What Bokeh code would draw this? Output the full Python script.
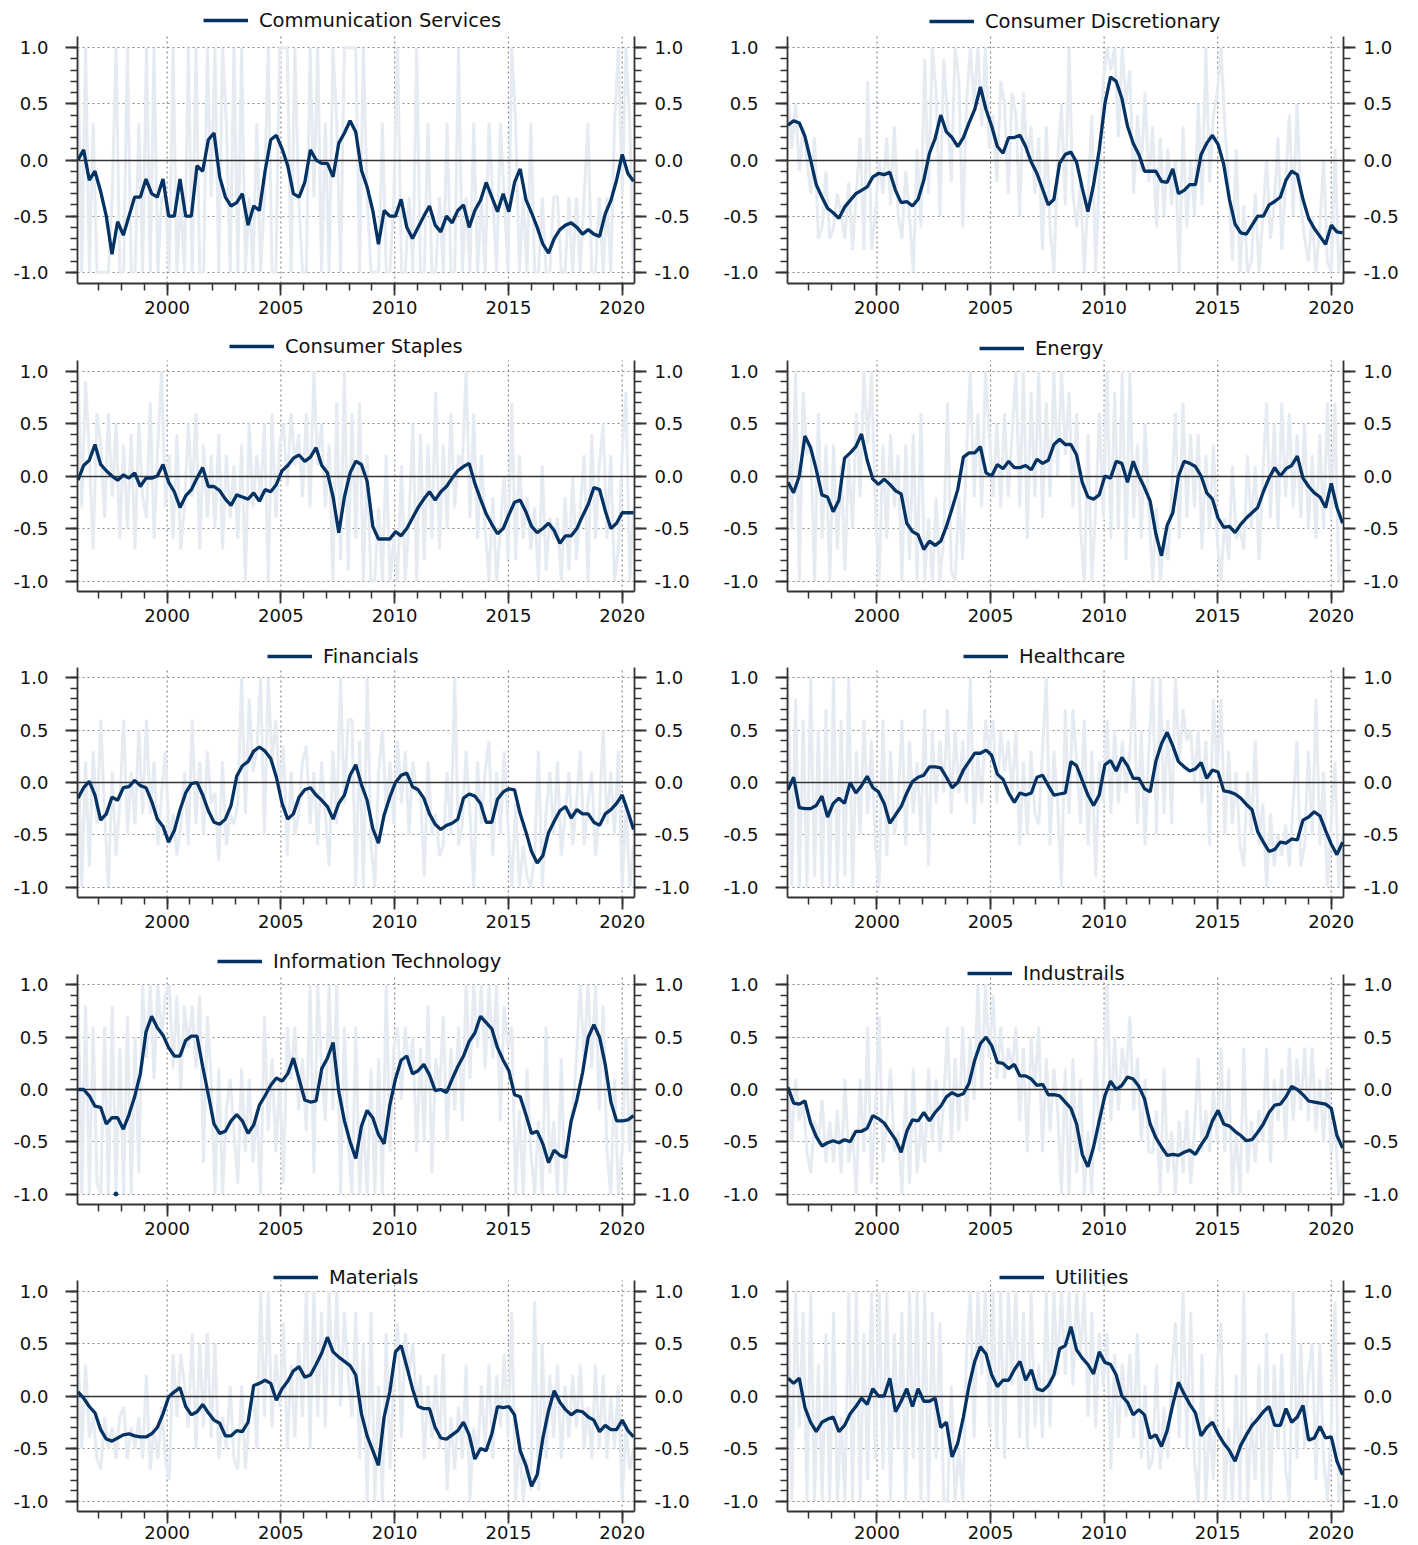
import numpy as np
from bokeh.plotting import figure
from bokeh.models import (Range1d, LinearAxis, FixedTicker, PrintfTickFormatter,
                          NumeralTickFormatter, Legend, LegendItem)
from bokeh.layouts import column, row
from bokeh.embed import file_html
from bokeh.resources import INLINE

# ---------------- data ----------------
START, END = 1996.08, 2020.5

sector_names = ["Communication Services", "Consumer Discretionary", "Consumer Staples", "Energy",
                "Financials", "Healthcare", "Information Technology", "Industrails",
                "Materials", "Utilities"]

year_ticks = [2000, 2005, 2010, 2015, 2020]
year_minor = list(range(1997, 2021))
y_ticks = [-1.0, -0.5, 0.0, 0.5, 1.0]
y_minor = [round(-1.0 + 0.1 * i, 1) for i in range(21)]

# smoothed series (approx. quarterly)
comm_smooth = [0.0, .09, -.18, -.1, -.28, -.5, -.84, -.55, -.67, -.5,
               -.33, -.33, -.17, -.3, -.33, -.17, -.5, -.5, -.17, -.5,
               -.5, -.05, -.1, .18, .24, -.15, -.33, -.41, -.38, -.3,
               -.58, -.41, -.45, -.1, .18, .22, .1, -.05, -.3, -.33,
               -.2, .09, 0.0, -.03, -.03, -.15, .15, .24, .35, .25,
               -.09, -.24, -.45, -.75, -.45, -.5, -.5, -.35, -.6, -.7,
               -.6, -.5, -.41, -.58, -.64, -.5, -.56, -.45, -.4, -.6,
               -.45, -.36, -.2, -.33, -.46, -.3, -.46, -.2, -.08, -.35,
               -.47, -.6, -.75, -.83, -.7, -.62, -.58, -.56, -.6, -.66,
               -.62, -.66, -.68, -.48, -.36, -.18, .05, -.12, -.19]
cd_smooth = [.31, .35, .33, .21, 0.0, -.22, -.33, -.43, -.47, -.52,
             -.42, -.36, -.3, -.27, -.24, -.15, -.12, -.13, -.11, -.27,
             -.38, -.37, -.41, -.35, -.18, .06, .19, .4, .25, .2,
             .12, .2, .33, .45, .65, .45, .3, .12, .06, .2,
             .2, .22, .12, -.02, -.12, -.26, -.4, -.35, -.03, .05,
             .07, -.02, -.25, -.46, -.22, .09, .5, .74, .7, .55,
             .3, .15, .05, -.1, -.1, -.1, -.19, -.2, -.08, -.3,
             -.27, -.22, -.22, .05, .15, .22, .14, -.04, -.35, -.57,
             -.65, -.66, -.58, -.5, -.5, -.4, -.37, -.33, -.18, -.1,
             -.13, -.35, -.52, -.61, -.68, -.75, -.58, -.64, -.65]
cs_smooth = [-.04, .1, .15, .3, .11, .05, 0.0, -.04, .01, -.02,
             .03, -.1, -.02, -.02, 0.0, .11, -.06, -.15, -.3, -.19,
             -.13, -.02, .08, -.1, -.1, -.14, -.22, -.28, -.18, -.2,
             -.22, -.16, -.24, -.13, -.15, -.08, .05, .1, .17, .2,
             .14, .18, .27, .1, .03, -.2, -.54, -.2, .03, .14,
             .11, -.05, -.48, -.6, -.6, -.6, -.53, -.57, -.5, -.4,
             -.3, -.22, -.15, -.23, -.15, -.1, -.02, .05, .09, .12,
             -.07, -.22, -.36, -.46, -.55, -.5, -.37, -.25, -.23, -.34,
             -.48, -.54, -.5, -.45, -.52, -.64, -.57, -.57, -.5, -.38,
             -.27, -.11, -.13, -.33, -.5, -.45, -.35, -.35, -.35]
en_smooth = [-.06, -.16, 0.0, .38, .27, .06, -.18, -.2, -.34, -.23,
             .17, .22, .28, .4, .15, -.03, -.08, -.03, -.08, -.14,
             -.17, -.45, -.53, -.56, -.7, -.62, -.66, -.62, -.48, -.31,
             -.13, .18, .22, .22, .28, .03, 0.0, .11, .07, .14,
             .08, .08, .1, .06, .16, .12, .15, .3, .35, .3,
             .3, .2, -.06, -.2, -.22, -.18, 0.0, -.02, .14, .12,
             -.06, .14, 0.0, -.11, -.24, -.55, -.76, -.47, -.35, 0.0,
             .14, .12, .09, 0.0, -.16, -.22, -.4, -.49, -.48, -.54,
             -.46, -.4, -.35, -.3, -.15, -.02, .08, 0.0, .07, .1,
             .19, -.02, -.1, -.16, -.2, -.3, -.07, -.3, -.45]
fin_smooth = [-.15, -.05, .01, -.12, -.36, -.3, -.14, -.17, -.05, -.04,
              .02, -.03, -.05, -.18, -.35, -.42, -.57, -.46, -.26, -.1,
              -.01, 0.0, -.12, -.27, -.38, -.4, -.35, -.22, .06, .16,
              .2, .3, .34, .3, .23, .05, -.2, -.35, -.3, -.14,
              -.07, -.05, -.12, -.17, -.23, -.35, -.2, -.12, .07, .17,
              -.02, -.17, -.44, -.58, -.31, -.14, 0.0, .07, .09, -.04,
              -.07, -.15, -.3, -.4, -.45, -.41, -.39, -.35, -.15, -.11,
              -.13, -.2, -.38, -.38, -.16, -.09, -.06, -.07, -.3, -.47,
              -.66, -.77, -.7, -.48, -.37, -.27, -.23, -.34, -.26, -.3,
              -.3, -.38, -.41, -.3, -.26, -.2, -.12, -.28, -.45]
hc_smooth = [-.07, .05, -.24, -.25, -.25, -.22, -.13, -.33, -.2, -.15,
             -.2, 0.0, -.1, -.03, .06, -.05, -.09, -.2, -.39, -.31,
             -.23, -.1, .01, .05, .07, .15, .15, .14, .05, -.05,
             0.0, .12, .2, .28, .28, .31, .26, .08, .03, -.1,
             -.19, -.1, -.12, -.1, .05, .07, -.03, -.12, -.11, -.1,
             .2, .16, .02, -.12, -.22, -.12, .17, .21, .11, .24,
             .16, .04, .04, -.06, -.09, .2, .37, .48, .35, .2,
             .15, .11, .13, .19, .04, .12, .1, -.08, -.09, -.11,
             -.15, -.21, -.26, -.47, -.57, -.66, -.64, -.57, -.58, -.54,
             -.55, -.36, -.33, -.28, -.32, -.46, -.59, -.69, -.57]
it_smooth = [0.0, 0.0, -.06, -.16, -.17, -.33, -.27, -.27, -.38, -.24,
             -.07, .15, .55, .7, .59, .52, .4, .32, .32, .47,
             .51, .51, .22, -.05, -.33, -.42, -.4, -.3, -.24, -.3,
             -.42, -.34, -.15, -.06, .04, .11, .08, .15, .3, .1,
             -.1, -.12, -.11, .2, .3, .45, -.02, -.3, -.5, -.66,
             -.35, -.2, -.27, -.43, -.52, -.15, .1, .28, .32, .15,
             .18, .24, .14, -.01, 0.0, -.03, .1, .22, .32, .46,
             .54, .7, .64, .58, .4, .28, .18, -.05, -.07, -.24,
             -.42, -.4, -.52, -.7, -.58, -.63, -.65, -.3, -.1, .16,
             .5, .62, .5, .24, -.12, -.3, -.3, -.29, -.25]
it_dot_x = [1997.75]
it_dot_y = [-1.0]
ind_smooth = [.02, -.13, -.14, -.11, -.32, -.45, -.54, -.51, -.49, -.51,
              -.48, -.5, -.4, -.4, -.37, -.25, -.28, -.32, -.4, -.48,
              -.6, -.4, -.29, -.3, -.22, -.3, -.22, -.16, -.07, -.03,
              -.06, -.04, .06, .28, .44, .5, .42, .26, .25, .2,
              .24, .13, .13, .1, .04, .05, -.05, -.05, -.06, -.12,
              -.18, -.33, -.62, -.74, -.55, -.3, -.06, .08, 0.0, .04,
              .12, .1, .03, -.09, -.33, -.46, -.55, -.63, -.62, -.63,
              -.6, -.58, -.62, -.53, -.45, -.3, -.2, -.33, -.35, -.4,
              -.44, -.49, -.48, -.41, -.33, -.22, -.15, -.14, -.07, .03,
              0.0, -.05, -.11, -.12, -.13, -.14, -.18, -.44, -.56]
mat_smooth = [.04, -.02, -.1, -.16, -.32, -.41, -.43, -.4, -.37, -.36,
              -.38, -.39, -.39, -.36, -.3, -.17, -.01, .04, .08, -.1,
              -.18, -.15, -.08, -.16, -.23, -.26, -.38, -.38, -.33, -.34,
              -.25, .1, .12, .15, .12, -.04, .07, .14, .24, .28,
              .18, .2, .3, .41, .56, .42, .37, .33, .29, .2,
              -.17, -.38, -.52, -.66, -.2, .04, .42, .48, .28, .07,
              -.1, -.12, -.12, -.3, -.4, -.41, -.37, -.33, -.25, -.37,
              -.6, -.5, -.52, -.36, -.1, -.11, -.1, -.18, -.52, -.66,
              -.86, -.75, -.4, -.14, .05, -.06, -.13, -.18, -.14, -.15,
              -.2, -.23, -.34, -.28, -.32, -.32, -.23, -.33, -.39]
ut_smooth = [.17, .12, .17, -.11, -.25, -.34, -.25, -.22, -.2, -.34,
             -.28, -.17, -.1, -.02, -.08, .07, 0.0, 0.0, .17, -.15,
             -.05, .07, -.1, .07, -.05, -.05, -.02, -.3, -.25, -.58,
             -.45, -.2, .1, .33, .47, .4, .2, .09, .15, .15,
             .25, .33, .15, .25, .07, .05, .1, .2, .45, .48,
             .66, .44, .36, .3, .21, .42, .32, .3, .2, 0.0,
             -.06, -.18, -.13, -.18, -.4, -.37, -.48, -.33, -.08, .13,
             .02, -.08, -.16, -.38, -.3, -.25, -.36, -.45, -.52, -.62,
             -.47, -.37, -.28, -.22, -.15, -.1, -.28, -.28, -.12, -.25,
             -.2, -.09, -.42, -.4, -.29, -.4, -.39, -.62, -.75]

# raw series (approx. every two months, one row per year 1996..2019, then 2020)
comm_raw = [1, -1, 1, -1, .33, -1,
            -1, -1, -1, -.33, 1, -1,
            -1, 1, -1, -1, .33, -1,
            1, -1, 1, -1, -.33, -.33,
            -1, 1, -1, -.33, -1, 1,
            -1, 1, -1, -1, 1, -.33,
            1, -1, 1, .33, -1, 1,
            -1, 1, -1, -.33, -1, .33,
            -1, -.33, 1, -1, -1, 1,
            1, 1, -1, 1, -.33, -1,
            -1, 1, -.33, 1, -1, .33,
            -1, 1, .33, -1, 1, 1,
            1, 1, -1, 1, -.33, -1,
            -1, -1, .33, -1, -1, -.33,
            1, -1, -1, -.33, -1, 1,
            -1, -1, .33, -1, -1, -.33,
            -1, .33, -1, -1, 1, -1,
            -.33, -1, .33, -1, -.33, -1,
            .33, -.33, -1, .33, -.33, -1,
            1, .33, -1, -.33, -1, .33,
            -1, -1, -.33, -1, -1, -.33,
            -.33, -1, -1, -.33, -1, -.33,
            -1, -.33, .33, -1, -1, -.33,
            -1, -.33, -1, .33, 1, -.33,
            1, .33, -1]
cd_raw = [.6, .1, .5, -.1, .3, 0.0,
          -.3, .2, -.7, -.6, -.1, -.7,
          -.6, -.3, -.5, -.7, -.2, -.8,
          -.3, .2, -.8, .7, -.8, -.5,
          0.0, -.3, .2, -.4, .3, -.5,
          -.7, -.1, -.5, -1, .1, -.6,
          .9, -.3, 1, .6, -.5, .9,
          .4, -.2, 1, .7, -.6, .5,
          1, .5, 1, .3, 1, .1,
          .4, -.2, .7, .5, -.3, .6,
          .4, -.5, .6, 0.0, .3, -.3,
          .2, -.8, .3, -.6, -1, 0.0,
          .5, -.4, 1, -.3, -.6, -.2,
          -1, -.3, .4, -1, -.1, .7,
          1, .8, 1, .2, 1, .5,
          .8, -.3, .4, -.1, .6, -.2,
          .3, -.6, .2, -.5, .1, -.4,
          0.0, -1, .3, -.6, 0.0, -.5,
          .5, -.4, 1, -.2, .4, .6,
          1, .3, -.2, -.9, .1, -1,
          -.4, -1, -.9, -.3, -1, -.5,
          0.0, -.7, -.4, .2, -.8, -.2,
          .4, -.5, .5, -.4, -.7, -.9,
          -.5, -1, -.6, 0.0, -.9, -1,
          .1, -1, -.7]
cs_raw = [1, -.3, .9, .2, -.7, .6,
          .3, -.4, .6, -.2, .5, -.6,
          .3, -.5, .4, -.7, .5, -.2,
          -.4, .7, -.6, .3, 1, -.3,
          .2, -.6, .4, -.7, -.3, .5,
          -.2, .6, -.7, .3, -.4, .2,
          -.5, .4, -.7, .2, -.4, .1,
          -.6, .3, -1, .5, -.3, .2,
          -.2, .5, -1, .6, -.4, .3,
          .5, -.1, .6, .1, .4, -.2,
          .6, -.3, 1, .1, .5, -.3,
          .3, -1, .7, -.8, 1, -.9,
          .6, -.6, .7, -1, .2, -1,
          -1, -.3, -1, .2, -1, -.6,
          -1, .1, -1, -.4, .5, -1,
          .4, -.8, .3, -.6, .8, -.7,
          .3, -.5, .6, -.3, .2, .1,
          1, -.4, .6, -.6, .2, -.5,
          -1, -.2, -1, -.5, 0.0, -.8,
          .7, -.8, .2, -.6, -.2, -.7,
          -.3, -1, .1, -.9, -.4, -.6,
          -.4, -1, -.2, -.9, 0.0, -.8,
          -.3, .2, -1, .4, -.6, .1,
          .5, -.6, .2, -1, -.7, .2,
          .8, -1, -.3]
en_raw = [1, -.5, 1, -1, .8, .2,
          .3, -1, .6, -.6, .3, -1,
          .3, -.7, .1, -.9, .2, -.5,
          .6, -.2, 1, .3, 1, -.3,
          -1, .3, -.6, .4, -.3, .2,
          -1, .3, -.8, .4, -1, .6,
          -1, -.4, -1, -.2, -1, -.6,
          .7, -.9, -1, -.2, -.8, .2,
          1, -.2, .6, -.3, 1, .4,
          -.2, .5, -.3, .6, -.2, .4,
          1, -.3, 1, -.6, .8, -.2,
          1, -.4, .7, -.2, 1, 0.0,
          1, .2, .8, -.3, .6, -.5,
          -1, .4, -1, -.3, .6, -.4,
          1, -.6, .8, -.5, 1, -.8,
          1, -.4, .3, -.6, .5, -.3,
          -1, -.3, -1, -.6, -.8, -.2,
          .6, -.6, .7, -.4, .4, -.3,
          .4, -.7, .2, -.5, .3, -.6,
          -1, -.4, -.8, .1, -.6, -.5,
          -.7, .2, -.5, .1, -.8, 0.0,
          .7, -.4, .5, -.5, .7, -.2,
          .6, -.3, .4, -.4, .5, -.5,
          .2, -.6, .4, -.5, .7, -.4,
          .7, -1, -.8]
fin_raw = [.4, -1, .2, -.8, .3, -.4,
           .6, -.3, -1, .1, -.7, -.2,
           .6, -.5, .1, -.4, .5, -.3,
           .6, -.3, .2, -.6, -.1, .3,
           -.6, -.3, -.7, -.4, .1, -.6,
           .6, -.4, .2, -.5, .3, -.2,
           -.1, -.75, .2, -.6, -.3, -.4,
           -.2, 1, -.3, .8, .1, .3,
           1, -.5, 1, .2, .6, -.1,
           .35, -.7, .1, -.5, -.3, .2,
           .35, -.4, .1, -.6, .2, -.3,
           -.8, .3, -.4, 1, -.2, .6,
           .6, -1, .4, -1, 1, -.6,
           -1, .1, .5, -.3, .2, -.4,
           .4, -.2, .3, -.5, .2, -.1,
           -.1, -.9, .2, -.5, -.3, -.7,
           -.6, .1, -.5, 1, -.6, -.4,
           .3, -.3, -1, .2, -.4, .1,
           .4, -.7, .1, -.5, .3, -.4,
           -1, -.2, -1, -.6, -.9, -1,
           -.7, .3, -1, -.3, .1, -.5,
           .2, -.7, -.3, .1, -.6, -.2,
           .3, -.6, -.2, .1, -.7, -.3,
           .5, -.4, .1, -.5, .3, -1,
           -.2, -1, -.6]
hc_raw = [1, -1, .8, -1, .6, -1,
          1, -.9, .5, -1, .7, -1,
          1, -1, .6, -.9, 1, -1,
          .3, -.5, .6, -.3, .4, -.6,
          -1, .6, -.7, .3, -.5, -.2,
          .6, -.6, .4, -.3, .2, -.5,
          .7, -.8, .5, -.2, .4, -.1,
          .7, -.3, .5, -.1, .4, -.2,
          1, -.4, .3, -.2, .6, .3,
          .6, -.2, .5, .1, .4, -.1,
          .5, -.6, .2, -.5, .3, -.3,
          -.4, .3, 1, -.6, .3, -.2,
          -1, .7, -.3, .7, .2, -.4,
          .6, -.6, .3, -.9, .2, -.2,
          .6, -.3, .5, -.2, .4, -.1,
          .3, 1, -.4, .5, -.6, .3,
          1, -.5, 1, -.3, .6, -.4,
          1, .2, .7, .4, .5, 0.0,
          .5, -.2, .4, -.6, .8, .1,
          .8, -.5, .3, -.4, .1, -.6,
          -.8, .1, -.5, .4, -.6, -.2,
          -1, -.3, -.8, -.5, -.7, -.4,
          -.8, -.2, .4, -.8, -.6, .3,
          -.5, .8, -.6, .1, -1, -.4,
          .2, -1, -.5]
it_raw = [1, -1, .8, -1, .6, -.9,
          -1, .6, -1, .8, -1, .4,
          -1, .7, -1, .5, -.8, 1,
          .3, 1, .1, 1, .5, .9,
          1, .2, .9, 0.0, .8, .4,
          .8, .2, .9, -.7, .7, .1,
          -1, .2, -1, -.2, .1, -.4,
          -.9, .2, -.6, .1, -.7, -.2,
          -1, .7, -.4, .3, -.6, .1,
          -.9, .6, .1, .6, -.2, .3,
          -.4, 1, -.8, 1, .2, -.3,
          1, -.2, 1, -1, .6, -.5,
          -1, .6, -1, -.3, -1, .2,
          -1, .3, -1, 1, -.6, .4,
          .6, -.1, .6, .2, .5, -.6,
          .4, -.5, .8, -.8, .3, 0.0,
          .7, -.5, .4, -.2, .6, -.3,
          1, .1, 1, .4, 1, .2,
          1, .3, 1, -.3, .8, .4,
          .6, -1, -.2, -1, .2, -.6,
          -1, -.3, -1, .6, -.8, -.3,
          -1, .3, -1, -.4, -.2, .3,
          1, .3, 1, .2, 1, -.2,
          .8, -.6, -1, .1, -1, -.6,
          .5, -.6, .2]
ind_raw = [.15, -.5, .1, -.3, -.1, -.6,
           -.8, -.3, -.5, -.1, -.7, -.3,
           -.7, -.2, -.8, .1, -.7, -.4,
           -1, .1, -.6, .6, -.9, -.2,
           .7, -.7, -.3, .2, -.6, -.4,
           -1, 0.0, -.9, .2, -.8, -.3,
           -.7, .2, -.5, .1, -.6, -.1,
           .6, -.5, .3, -.4, .6, -.3,
           .5, -.1, 1, 0.0, 1, .3,
           .9, .1, .6, .1, .4, .2,
           .6, -.3, .4, -.6, .5, 0.0,
           .6, -.6, .3, -.4, .2, -.2,
           -1, .2, -1, .3, -.8, .1,
           -1, -.4, -1, .5, -.6, 0.0,
           1, -.3, .5, -.2, .4, .1,
           .7, -.2, .3, -.5, .1, -.6,
           -.6, -.2, -1, .2, -.8, -.4,
           -1, -.3, -.8, -.2, -.9, -.4,
           .3, -.6, -.2, -.6, 0.0, -.5,
           .4, -.6, .2, -1, -.4, -1,
           .4, -.8, -.3, -.7, -.2, -.5,
           .4, -.7, .1, -.3, .2, -.5,
           .4, -.3, .3, -.2, .4, -.3,
           .4, -.4, .1, -.5, .2, -.6,
           -.3, -1, -.8]
mat_raw = [.4, -.5, .3, -.4, -.2, -.6,
           -.7, -.2, -.5, -.3, -.6, -.2,
           -.1, -.6, -.3, -.5, -.2, -.6,
           .2, -.7, -.3, -.6, -.1, -.6,
           -.8, .4, -.2, .4, .1, -.3,
           .6, -.5, .5, -.3, .6, -.4,
           .5, -.6, -.2, -.5, .1, -.6,
           -.7, .1, -.7, -.2, .1, -.5,
           1, -.2, 1, -.3, .4, -.1,
           .7, -.5, .3, -.4, .5, -.2,
           1, -.5, 1, -.2, .8, -.3,
           1, 0.0, 1, -.1, .8, .2,
           -.2, .8, -.6, .5, -1, .8,
           -1, .1, -1, .6, -.7, .2,
           .7, -.4, .6, .2, .5, -.1,
           .2, -.6, .1, -.4, .2, -.5,
           .4, -.9, -.2, -.7, -.1, -.6,
           .3, -1, -.3, -.6, .1, -.5,
           .3, -.6, .2, -.3, .4, -.4,
           .8, -1, -.4, -1, -.6, -.9,
           .9, -.9, .5, -.6, .2, -.4,
           .3, -.6, .1, -.4, .2, -.3,
           .3, -.5, -.1, -.6, .3, -.5,
           .2, -.6, 0.0, -.5, .1, -1,
           -.3, -.7, -.5]
ut_raw = [1, -1, 1, -.3, .8, -1,
          1, -1, .3, -1, .6, -1,
          .8, -1, -.2, -1, 1, -1,
          1, -1, .6, -.8, 1, -.6,
          1, -.7, 1, -1, .6, -.5,
          .8, -1, 1, -.6, 1, -1,
          1, -1, .8, -.6, .7, -1,
          -1, .1, -1, -.5, -1, .4,
          1, -.4, 1, .2, 1, -.3,
          1, -.5, 1, -.6, 1, .1,
          1, -.4, .8, -.5, 1, -.3,
          .3, -.4, 1, -.3, 1, .2,
          1, .2, 1, .1, 1, .4,
          1, -.2, .8, -.3, .6, .1,
          .6, -.7, .4, -.4, .3, -.2,
          .4, -.4, .6, -.6, .1, -.7,
          -.6, .3, -.7, -.1, -.6, .2,
          .7, -.4, 1, -.5, .8, -.6,
          -1, .4, -1, -.2, -.8, .3,
          .7, -1, -.3, -1, .2, -1,
          1, -1, -.2, -.8, .3, -1,
          .6, -1, .3, -.5, .4, -.7,
          -1, 1, -.6, .5, -.5, .2,
          .5, -.8, .5, -.6, -1, -.3,
          .9, -1, -.8]

smooth_series = [comm_smooth, cd_smooth, cs_smooth, en_smooth, fin_smooth,
                 hc_smooth, it_smooth, ind_smooth, mat_smooth, ut_smooth]
raw_series = [comm_raw, cd_raw, cs_raw, en_raw, fin_raw,
              hc_raw, it_raw, ind_raw, mat_raw, ut_raw]

# ---------------- style / layout ----------------
FONT = "DejaVu Sans"
DARK = "#043263"
LIGHT = "#e6ebf2"
AXC = "#333333"
YLO, YHI = -1.1, 1.1

# (space above axes, axes height, space below axes, x label standoff)
rows_geom = [(36, 247, 47, 5), (30, 231, 46, 5), (30, 230, 47, 5), (30, 230, 46, 5), (30, 231, 34, 2)]
cols_geom = [(718, 77, 84), (689, 69, 64)]
# legend offsets from the bottom-left corner of the (extended) frame
legend_pos = [(126, 251), (142, 250), (152, 233), (192, 231), (190, 229),
              (176, 229), (140, 231), (180, 219), (196, 222), (212, 222)]


def style_axis(ax, ticks, minor, fmt):
    ax.ticker = FixedTicker(ticks=ticks, minor_ticks=minor)
    ax.formatter = fmt
    ax.axis_line_color = AXC
    ax.axis_line_width = 1.8
    ax.major_tick_line_color = AXC
    ax.major_tick_line_width = 1.8
    ax.major_tick_out = 12
    ax.major_tick_in = 0
    ax.minor_tick_line_color = AXC
    ax.minor_tick_line_width = 1.5
    ax.minor_tick_out = 7
    ax.minor_tick_in = 0
    ax.major_label_text_font = FONT
    ax.major_label_text_font_size = "18px"
    ax.major_label_text_color = "#111111"


def make_panel(idx):
    r, c = divmod(idx, 2)
    top, data_h, bb, xstand = rows_geom[r]
    w, bl, br = cols_geom[c]
    ymax = YHI + top * (YHI - YLO) / data_h
    p = figure(width=w, height=top + data_h + bb, min_border_left=bl, min_border_right=br,
               min_border_top=0, min_border_bottom=bb,
               x_range=Range1d(1996.06, 2020.54), y_range=Range1d(YLO, ymax),
               output_backend="svg", toolbar_location=None, title=None,
               outline_line_color=None, background_fill_color="white",
               border_fill_color="white")
    style_axis(p.xaxis[0], year_ticks, year_minor, NumeralTickFormatter(format="0"))
    p.xaxis[0].major_label_standoff = xstand
    style_axis(p.yaxis[0], y_ticks, y_minor, PrintfTickFormatter(format="%.1f"))
    p.yaxis[0].major_label_standoff = 17
    p.yaxis[0].bounds = (YLO, YHI)
    ra = LinearAxis(bounds=(YLO, YHI))
    style_axis(ra, y_ticks, y_minor, PrintfTickFormatter(format="%.1f"))
    ra.major_label_standoff = 8
    p.add_layout(ra, "right")

    p.xgrid.visible = False
    p.ygrid.ticker = FixedTicker(ticks=[-1.0, -0.5, 0.5, 1.0])
    p.ygrid.grid_line_color = "#888888"
    p.ygrid.grid_line_dash = "2 3"
    p.ygrid.grid_line_width = 1.2
    # vertical grid lines at the major year ticks, limited to the axes' height
    p.segment(x0=year_ticks, y0=[YLO] * len(year_ticks), x1=year_ticks, y1=[YHI] * len(year_ticks),
              line_color="#888888", line_dash="2 3", line_width=1.2)

    raw = raw_series[idx]
    sm = smooth_series[idx]
    p.line(np.linspace(START, END, len(raw)), raw, line_color=LIGHT, line_width=3)
    p.hspan(y=[0.0], line_color=AXC, line_width=1.6)
    rl = p.line(np.linspace(START, END, len(sm)), sm, line_color=DARK, line_width=3.3)
    if idx == 6:
        p.scatter(it_dot_x, it_dot_y, size=4, color=DARK)

    lx, ly = legend_pos[idx]
    leg = Legend(items=[LegendItem(label=sector_names[idx], renderers=[rl])],
                 location=(lx, ly), margin=0, padding=0, spacing=0,
                 glyph_width=45, glyph_height=24, label_height=24, label_standoff=11,
                 label_text_font=FONT, label_text_font_size="19.5px",
                 label_text_color="#111111",
                 background_fill_alpha=0, border_line_alpha=0)
    p.add_layout(leg)
    return p


panels = [make_panel(i) for i in range(10)]
layout = column([row(panels[2 * r], panels[2 * r + 1]) for r in range(5)])

open("out.html", "w").write(file_html(layout, INLINE))
